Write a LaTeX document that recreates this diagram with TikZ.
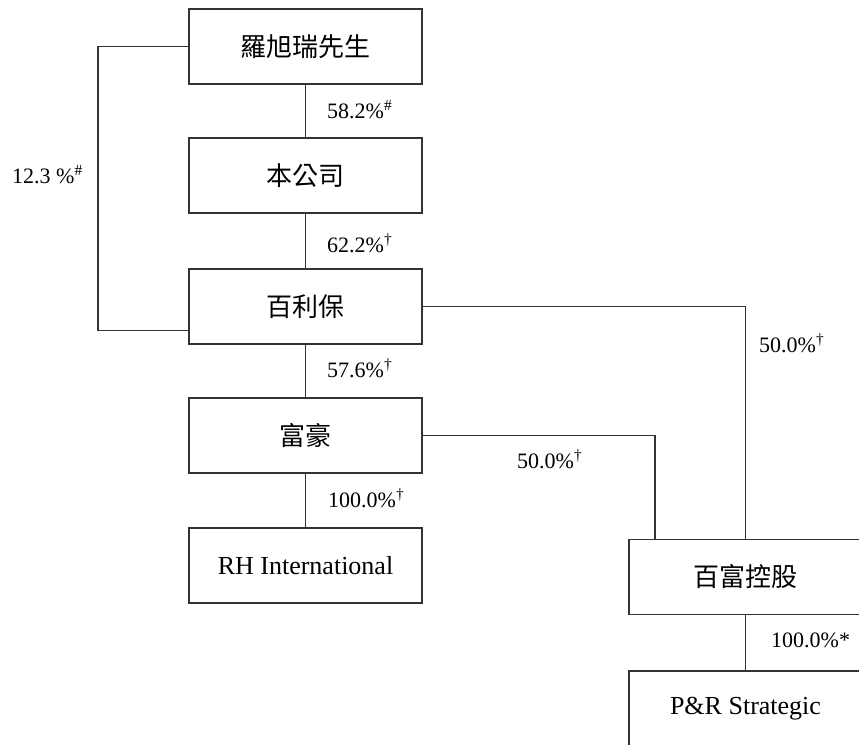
\documentclass[tikz,border=0pt]{standalone}
\usepackage{fontspec}
\setmainfont{Liberation Serif}
\newfontfamily\cjk{Noto Sans CJK TC}
\begin{document}
\begin{tikzpicture}[x=1pt,y=-1pt,
  box/.style={draw=black!80, line width=1.2pt, minimum width=233pt, minimum height=75pt, inner sep=0pt, anchor=center},
  cjkbox/.style={box, font=\cjk\fontsize{26}{30}\selectfont},
  latbox/.style={box, font=\fontsize{26}{30}\selectfont},
  pct/.style={anchor=base west, inner sep=0pt, font=\fontsize{22}{26}\selectfont},
  link/.style={draw=black!80, line width=1.2pt}]
\useasboundingbox (0,0) rectangle (859,744);
\clip (0,0) rectangle (859,744);
% boxes
\node[cjkbox] (a) at (305.5,46.5) {羅旭瑞先生};
\node[cjkbox] (b) at (305.5,175.5) {本公司};
\node[cjkbox] (c) at (305.5,306.5) {百利保};
\node[cjkbox] (d) at (305.5,435.5) {富豪};
\node[latbox] (e) at (305.5,565.5) {RH International};
\node[cjkbox] (f) at (745.5,577) {百富控股};
\node[latbox] (g) at (745.5,708.5) {P\&R Strategic};
% helper coordinates
\coordinate (lbend) at (98,330);
\coordinate (cl) at ([yshift=14pt]c.south west);
\coordinate (fl) at ([xshift=-90.5pt]f.north);
% connectors
\draw[link] (a) -- (b);
\draw[link] (b) -- (c);
\draw[link] (c) -- (d);
\draw[link] (d) -- (e);
\draw[link] (f) -- (g);
\draw[link] (a.west) -| (lbend) |- (cl);
\draw[link] (c.east) -| (f.north);
\draw[link] (d.east) -| (fl);
% labels
\node[pct] (l1) at (327,118) {58.2\%\textsuperscript{\#}};
\node[pct] (l2) at (327,252) {62.2\%\textsuperscript{†}};
\node[pct] (l3) at (327,377) {57.6\%\textsuperscript{†}};
\node[pct] (l4) at (328,507) {100.0\%\textsuperscript{†}};
\node[pct] (l5) at (12,183) {12.3 \%\textsuperscript{\#}};
\node[pct] (l6) at (759,352) {50.0\%\textsuperscript{†}};
\node[pct] (l7) at (517,468) {50.0\%\textsuperscript{†}};
\node[pct] (l8) at (771,647) {100.0\%*};
\end{tikzpicture}
\end{document}
